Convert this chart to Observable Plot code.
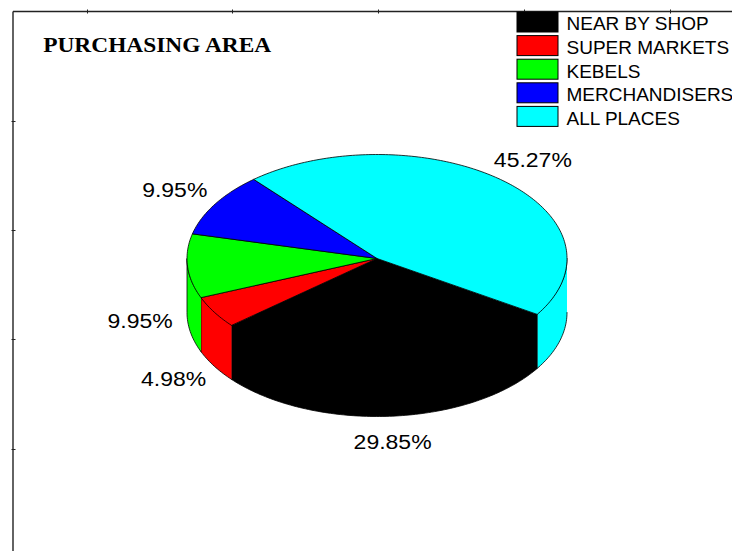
<!DOCTYPE html>
<html>
<head>
<meta charset="utf-8">
<script src="https://cdn.jsdelivr.net/npm/d3@7"></script>
<script src="https://cdn.jsdelivr.net/npm/@observablehq/plot@0.6"></script>
<style>
  html, body { margin: 0; padding: 0; background: #fff; }
  svg { display: block; }
</style>
</head>
<body>
<script>
// ---- data ----
const categories = ["NEAR BY SHOP", "SUPER MARKETS", "KEBELS", "MERCHANDISERS", "ALL PLACES"];
const values = [29.85, 4.98, 9.95, 9.95, 45.27];
const colors = ["#000000", "#ff0000", "#00ff00", "#0000ff", "#00ffff"];
const labels = ["29.85%", "4.98%", "9.95%", "9.95%", "45.27%"];
const title = "PURCHASING AREA";

// ---- layout ----
const W = 732, H = 551;
const cx = 376.5, cy = 258, rx = 190, ry = 104, depth = 54;
const startDeg = 32.5;
const rad = d => d * Math.PI / 180;
const px = d => cx + rx * Math.cos(rad(d));
const py = d => cy + ry * Math.sin(rad(d));

const total = d3.sum(values);
let acc = 0;
const slices = categories.map((c, i) => {
  const a = startDeg + 360 * acc / total;
  acc += values[i];
  const b = startDeg + 360 * acc / total;
  return {category: c, value: values[i], label: labels[i], a, b, i};
});

function arc(a, b) {
  const n = Math.max(2, Math.ceil(Math.abs(b - a)));
  return d3.range(n + 1).map(k => a + (b - a) * k / n);
}

// side walls (front half only: 0..180 and 360..540)
const wallPts = [];
slices.forEach(s => {
  [[0, 180], [360, 540]].forEach(([lo, hi], j) => {
    const a = Math.max(s.a, lo), b = Math.min(s.b, hi);
    if (b > a) {
      const id = s.category + "-w" + j;
      arc(a, b).forEach(t => wallPts.push({id, category: s.category, x: px(t), y: py(t) - 1.5 * Math.sin(rad(t))}));
      arc(a, b).reverse().forEach(t => wallPts.push({id, category: s.category, x: px(t), y: py(t) + depth}));
    }
  });
});

// top faces
const topPts = [];
slices.forEach(s => {
  const id = s.category + "-top";
  topPts.push({id, category: s.category, x: cx, y: cy});
  arc(s.a, s.b).forEach(t => topPts.push({id, category: s.category, x: px(t), y: py(t)}));
  topPts.push({id, category: s.category, x: cx, y: cy});
});

// labels
const k = 1.25;
const labelPts = slices.map(s => {
  const m = (s.a + s.b) / 2;
  const sn = Math.sin(rad(m));
  return {
    label: s.label,
    x: cx + k * rx * Math.cos(rad(m)),
    y: cy + k * ry * sn + (sn > 0 ? depth : 0)
  };
});

// legend rows
const legTop = 12, legPitch = 23.6, legH = 20;
const legend = categories.map((c, i) => ({
  category: c,
  x1: 517, x2: 558,
  y1: legTop + legPitch * i, y2: legTop + legPitch * i + legH,
  tx: 566, ty: legTop + legPitch * i + 11.9
}));

// frame
const frameLines = [
  {x1: 12.5, x2: 12.5, y1: 11, y2: H},
  {x1: 12.5, x2: W, y1: 11, y2: 11}
];
const topTicks = [87, 232, 378, 524, 670].map(x => ({x1: x, x2: x, y1: 9, y2: 13}));
const leftTicks = [121, 230, 339, 449].map(y => ({x1: 11, x2: 15, y1: y, y2: y}));

const chart = Plot.plot({
  width: W, height: H, margin: 0,
  x: {domain: [0, W], range: [0, W], axis: null},
  y: {domain: [0, H], range: [0, H], axis: null},
  color: {domain: categories, range: colors},
  style: {background: "#fff", fontFamily: "'Liberation Sans', Arial, sans-serif"},
  marks: [
    Plot.link(frameLines, {x1: "x1", x2: "x2", y1: "y1", y2: "y2", stroke: "#222", strokeWidth: 1.4}),
    Plot.link(topTicks.concat(leftTicks), {x1: "x1", x2: "x2", y1: "y1", y2: "y2", stroke: "#222", strokeWidth: 1}),
    Plot.line(wallPts, {x: "x", y: "y", z: "id", fill: "category", stroke: "#000", strokeWidth: 0.8, strokeLinejoin: "miter"}),
    Plot.line(topPts, {x: "x", y: "y", z: "id", fill: "category", stroke: "#000", strokeWidth: 0.8, strokeLinejoin: "miter"}),
    Plot.text(labelPts, {x: "x", y: "y", text: "label", fontSize: 20, fill: "#000", textAnchor: "middle"}),
    Plot.text([title], {x: () => 42.7, y: () => 45, text: d => d, textAnchor: "start", fontSize: 21, fontWeight: "bold",
      fontFamily: "'Liberation Serif', 'Times New Roman', serif", fill: "#000"}),
    Plot.rect(legend, {x1: "x1", x2: "x2", y1: "y1", y2: "y2", fill: "category", stroke: "#000", strokeWidth: 1}),
    Plot.text(legend, {x: "tx", y: "ty", text: "category", textAnchor: "start", fontSize: 19, fill: "#000"})
  ]
});

document.body.append(chart);

// horizontal stretch of the percentage labels and the title, as in the reference
const labelSet = new Set(labels);
chart.querySelectorAll("text").forEach(t => {
  const s = t.textContent;
  let target = null;
  const len = t.getComputedTextLength();
  if (labelSet.has(s)) target = len * 1.15;
  else if (s === title) target = 228;
  if (target && len > 0) {
    t.setAttribute("textLength", target.toFixed(1));
    t.setAttribute("lengthAdjust", "spacingAndGlyphs");
  }
});
</script>
</body>
</html>
